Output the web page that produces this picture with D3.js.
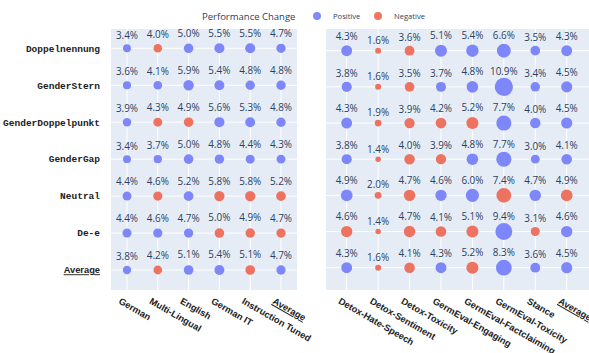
<!DOCTYPE html>
<html lang="en">
<head>
    <meta charset="UTF-8">
    <title>Performance Change</title>
    <script src="https://cdn.jsdelivr.net/npm/d3@7"></script>
    <style>
        body { margin: 0; background: #fff; }
        .val { font-family: "Open Sans", sans-serif; font-size: 9.9px; fill: #2a3f5f; text-anchor: middle; }
        .ylab { font-family: "Liberation Mono", "Courier New", monospace; font-weight: bold; font-size: 9.5px; fill: #222; text-anchor: end; }
        .ylab.avg { font-family: "Liberation Sans", Arial, sans-serif; font-size: 9.3px; text-decoration: underline; }
        .xlab { font-family: "Liberation Sans", Arial, sans-serif; font-weight: bold; font-size: 9.3px; fill: #222; }
        .xlab.avg { text-decoration: underline; }
        .leg { font-family: "Open Sans", sans-serif; fill: #2a3f5f; }
    </style>
</head>
<body>
<div id="chart"></div>
<script>
    const width = 589;
    const height = 353;

    const rows = ["Doppelnennung", "GenderStern", "GenderDoppelpunkt", "GenderGap", "Neutral", "De-e", "Average"];
    const leftCols = ["German", "Multi-Lingual", "English", "German IT", "Instruction Tuned", "Average"];
    const rightCols = ["Detox-Hate-Speech", "Detox-Sentiment", "Detox-Toxicity", "GermEval-Engaging",
        "GermEval-Factclaiming", "GermEval-Toxicity", "Stance", "Average"];

    // negative number = negative change, label shows magnitude
    const leftValues = [
        [3.4, -4.0, 5.0, 5.5, 5.5, 4.7],
        [3.6, 4.1, 5.9, 5.4, 4.8, 4.8],
        [3.9, -4.3, -4.9, 5.6, 5.3, 4.8],
        [3.4, 3.7, 5.0, 4.8, 4.4, 4.3],
        [4.4, -4.6, 5.2, -5.8, -5.8, -5.2],
        [4.4, 4.6, 4.7, -5.0, -4.9, -4.7],
        [3.8, -4.2, 5.1, 5.4, -5.1, 4.7]
    ];
    const rightValues = [
        [4.3, -1.6, -3.6, 5.1, 5.4, 6.6, 3.5, 4.3],
        [3.8, -1.6, -3.5, 3.7, 4.8, 10.9, 3.4, 4.5],
        [4.3, -1.9, -3.9, -4.2, -5.2, 7.7, 4.0, 4.5],
        [3.8, -1.4, -4.0, -3.9, 4.8, 7.7, 3.0, 4.1],
        [4.9, -2.0, -4.7, 4.6, 6.0, -7.4, 4.7, -4.9],
        [-4.6, -1.4, -4.7, -4.1, -5.1, 9.4, -3.1, 4.6],
        [4.3, -1.6, -4.1, 4.3, -5.2, 8.3, 3.6, 4.5]
    ];

    const posColor = "rgb(125,135,249)";
    const negColor = "rgb(237,115,96)";

    const svg = d3.select("#chart").append("svg")
        .attr("width", width).attr("height", height);

    const panels = [
        { cols: leftCols, values: leftValues, x0: 111, x1: 297, cx: [127, 281], cy: [48.3, 270],
          r: d3.scaleSqrt().domain([0, 5.9]).range([0, 5.2]) },
        { cols: rightCols, values: rightValues, x0: 326, x1: 589, cx: [346.7, 566.7], cy: [50.7, 267.7],
          r: d3.scalePow().exponent(0.5).domain([1.6, 10.9]).range([3, 9.15]) }
    ];
    const plotTop = 29, plotBottom = 290;

    // text lift above the marker centre
    const lift = d3.scaleLinear().domain([1.4, 4.8]).range([6.6, 11.6]).clamp(true);

    panels.forEach(function(p) {
        const x = d3.scalePoint().domain(p.cols).range(p.cx);
        const y = d3.scalePoint().domain(rows).range(p.cy);
        const g = svg.append("g");

        g.append("rect").attr("x", p.x0).attr("y", plotTop)
            .attr("width", p.x1 - p.x0).attr("height", plotBottom - plotTop)
            .attr("fill", "#e5ecf6");

        g.selectAll("line.v").data(p.cols).enter().append("line")
            .attr("x1", d => x(d)).attr("x2", d => x(d))
            .attr("y1", plotTop).attr("y2", plotBottom)
            .attr("stroke", "#fff").attr("stroke-width", 1);
        g.selectAll("line.h").data(rows).enter().append("line")
            .attr("x1", p.x0).attr("x2", p.x1)
            .attr("y1", d => y(d)).attr("y2", d => y(d))
            .attr("stroke", "#fff").attr("stroke-width", 1);

        const cells = [];
        rows.forEach(function(row, i) {
            p.cols.forEach(function(col, j) {
                cells.push({ row: row, col: col, v: p.values[i][j] });
            });
        });

        g.selectAll("circle").data(cells).enter().append("circle")
            .attr("cx", d => x(d.col)).attr("cy", d => y(d.row))
            .attr("r", d => p.r(Math.abs(d.v)))
            .attr("fill", d => d.v < 0 ? negColor : posColor);

        g.selectAll("text.val").data(cells).enter().append("text")
            .attr("class", "val")
            .attr("x", d => x(d.col))
            .attr("y", d => y(d.row) - lift(Math.abs(d.v)))
            .text(d => Math.abs(d.v).toFixed(1) + "%");

        g.selectAll("text.xlab").data(p.cols).enter().append("text")
            .attr("class", d => d === "Average" ? "xlab avg" : "xlab")
            .attr("transform", d => `translate(${x(d) - 9},303) rotate(30)`)
            .text(d => d);
    });

    const yLeft = d3.scalePoint().domain(rows).range(panels[0].cy);
    svg.append("g").selectAll("text").data(rows).enter().append("text")
        .attr("class", d => d === "Average" ? "ylab avg" : "ylab")
        .attr("x", 100).attr("y", d => yLeft(d)).attr("dy", "0.35em")
        .text(d => d);

    // legend
    const legend = svg.append("g").attr("class", "leg");
    legend.append("text").attr("x", 202).attr("y", 19.5)
        .attr("font-size", "9.5px").text("Performance Change");
    const items = [{ name: "Positive", color: "rgb(130,139,251)", x: 317 },
                   { name: "Negative", color: "rgb(242,119,98)", x: 378 }];
    const it = legend.selectAll("g.item").data(items).enter().append("g");
    it.append("circle").attr("cx", d => d.x).attr("cy", 16).attr("r", 4).attr("fill", d => d.color);
    it.append("text").attr("x", d => d.x + 16).attr("y", 18.8)
        .attr("font-size", "7.6px").text(d => d.name);
</script>
</body>
</html>
